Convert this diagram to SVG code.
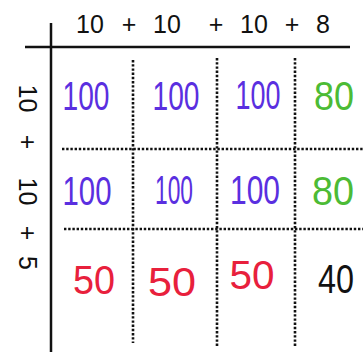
<svg xmlns="http://www.w3.org/2000/svg" width="363" height="352" viewBox="0 0 363 352">
<style>
.lbl{font-family:"Liberation Sans",Arial,sans-serif;font-size:25px;fill:#111;text-anchor:middle}
.hw{font-family:"Liberation Sans",Arial,sans-serif;font-size:41px;text-anchor:middle}
.b{fill:#5a2fe0}.g{fill:#4cbb35}.r{fill:#e8203c}.k{fill:#111}
.axis{stroke:#111;stroke-width:2.5;fill:none}
.dot{stroke:#111;stroke-width:2.6;stroke-dasharray:2.4 1.8;fill:none}
</style>
<rect width="363" height="352" fill="#fff"/>
<g id="axes">
<line class="axis" x1="25" y1="47" x2="350" y2="47"/>
<line class="axis" x1="51" y1="23" x2="51" y2="352"/>
</g>
<g id="connectors">
<line class="dot" x1="133" y1="60" x2="133" y2="343"/>
<line class="dot" x1="217" y1="58" x2="217" y2="347"/>
<line class="dot" x1="295" y1="58" x2="295" y2="347"/>
<line class="dot" x1="62" y1="149" x2="363" y2="149"/>
<line class="dot" x1="64" y1="229" x2="363" y2="229"/>
</g>
<g id="top-labels">
<text class="lbl" x="90" y="32.5">10</text>
<text class="lbl" x="129" y="32.5">+</text>
<text class="lbl" x="167" y="32.5">10</text>
<text class="lbl" x="216" y="32.5">+</text>
<text class="lbl" x="254" y="32.5">10</text>
<text class="lbl" x="292" y="32.5">+</text>
<text class="lbl" x="323" y="32.5">8</text>
</g>
<g id="left-labels">
<text class="lbl" transform="translate(18.5,98.5) rotate(90)">10</text>
<text class="lbl" transform="translate(18.5,142) rotate(90)">+</text>
<text class="lbl" transform="translate(18.5,191.5) rotate(90)">10</text>
<text class="lbl" transform="translate(18.5,233) rotate(90)">+</text>
<text class="lbl" transform="translate(18.5,263) rotate(90)">5</text>
</g>
<g id="row1">
<text class="hw b" x="86" y="110" textLength="47" lengthAdjust="spacingAndGlyphs">100</text>
<text class="hw b" x="176" y="110" textLength="47" lengthAdjust="spacingAndGlyphs">100</text>
<text class="hw b" x="258" y="109" textLength="45" lengthAdjust="spacingAndGlyphs">100</text>
<text class="hw g" x="334" y="110" textLength="40" lengthAdjust="spacingAndGlyphs">80</text>
</g>
<g id="row2">
<text class="hw b" x="87" y="205" textLength="49" lengthAdjust="spacingAndGlyphs">100</text>
<text class="hw b" x="174" y="204" textLength="38" lengthAdjust="spacingAndGlyphs">100</text>
<text class="hw b" x="255" y="204" textLength="50" lengthAdjust="spacingAndGlyphs">100</text>
<text class="hw g" x="333" y="205" textLength="42" lengthAdjust="spacingAndGlyphs">80</text>
</g>
<g id="row3">
<text class="hw r" x="94" y="294" textLength="42" lengthAdjust="spacingAndGlyphs">50</text>
<text class="hw r" x="172" y="296" textLength="48" lengthAdjust="spacingAndGlyphs">50</text>
<text class="hw r" x="252" y="289" textLength="45" lengthAdjust="spacingAndGlyphs">50</text>
<text class="hw k" x="336" y="293" textLength="36" lengthAdjust="spacingAndGlyphs">40</text>
</g>
</svg>
